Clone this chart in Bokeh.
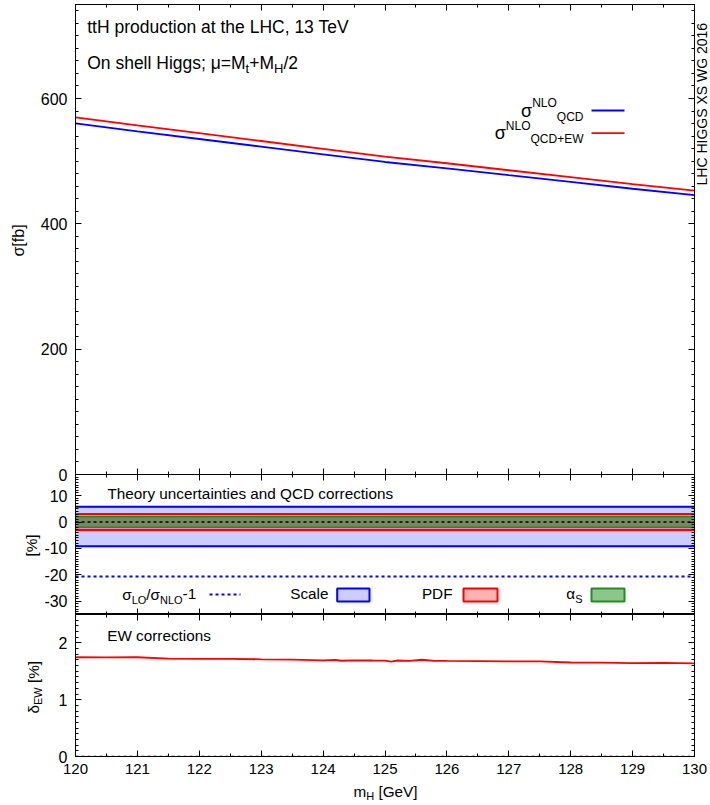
import math
from bokeh.plotting import figure
from bokeh.models import Label, SingleIntervalTicker, LinearAxis, Range1d, CustomLabelingPolicy
from bokeh.layouts import column, row
from bokeh.embed import file_html
from bokeh.resources import INLINE

FONT = "Liberation Sans"

# ---------------- data ----------------
mh = [120, 121, 122, 123, 124, 125, 126, 127, 128, 129, 130]
sigma_qcd = [560.2, 547.5, 535.4, 523.2, 511.0, 498.7, 488.5, 477.6, 466.8, 456.0, 445.8]
sigma_qcdew = [570.0, 557.0, 544.6, 532.2, 519.7, 507.1, 496.7, 485.5, 474.6, 463.5, 453.1]

scale_up = [5.8, 5.8, 5.8, 5.8, 5.8, 5.8, 5.8, 5.8, 5.8, 5.8, 5.8]
scale_dn = [-9.2, -9.2, -9.2, -9.2, -9.2, -9.2, -9.2, -9.2, -9.2, -9.2, -9.2]
pdf_up = [3.0, 3.0, 3.0, 3.0, 3.0, 3.0, 3.0, 3.0, 3.0, 3.0, 3.0]
pdf_dn = [-3.0, -3.0, -3.0, -3.0, -3.0, -3.0, -3.0, -3.0, -3.0, -3.0, -3.0]
as_up = [2.0, 2.0, 2.0, 2.0, 2.0, 2.0, 2.0, 2.0, 2.0, 2.0, 2.0]
as_dn = [-2.0, -2.0, -2.0, -2.0, -2.0, -2.0, -2.0, -2.0, -2.0, -2.0, -2.0]
lo_over_nlo = [-20.6, -20.6, -20.6, -20.6, -20.6, -20.6, -20.6, -20.6, -20.6, -20.6, -20.6]
zero_line = [0, 0, 0, 0, 0, 0, 0, 0, 0, 0, 0]

ew_mh = [120, 120.5, 121, 121.5, 122, 122.5, 123, 123.5, 124, 124.2, 124.3, 124.5,
         124.8, 125, 125.1, 125.2, 125.4, 125.6, 125.8, 126, 126.5, 127, 127.5,
         128, 128.5, 129, 129.5, 130]
ew_delta = [1.747, 1.745, 1.747, 1.723, 1.720, 1.718, 1.711, 1.705, 1.694, 1.700, 1.686, 1.694,
            1.690, 1.688, 1.670, 1.690, 1.685, 1.703, 1.685, 1.682, 1.680, 1.676, 1.674,
            1.655, 1.652, 1.645, 1.648, 1.641]
ew_zero = [0] * len(ew_mh)

mid_tick_labels = {-10: "-10", -20: "-20", -30: "-30"}

# ---------------- layout constants ----------------
PAGE_W, PAGE_H = 710, 805
X0, X1 = 120, 130
L_PX, R_PX = 75, 694   # frame edges in the page
PANELS = {
    "top": dict(top=4, bottom=474, y0=0, y1=750),
    "mid": dict(top=474, bottom=614, y0=-35, y1=18),
    "bot": dict(top=614, bottom=756, y0=0, y1=2.5),
}
OVER = 8  # the top canvas reaches under the middle one (room for its "0" label)

W = {' ': 278, '!': 278, '(': 333, ')': 333, '+': 584, ',': 278, '-': 333, '.': 278, '/': 278,
     ';': 278, '=': 584, '[': 278, ']': 278, '%': 889,
     'A': 667, 'C': 722, 'D': 722, 'E': 667, 'F': 611, 'G': 778, 'H': 722, 'I': 278, 'L': 556,
     'M': 833, 'N': 722, 'O': 778, 'P': 667, 'Q': 778, 'S': 667, 'T': 611, 'V': 667, 'W': 944,
     'X': 667, 'a': 556, 'b': 556, 'c': 500, 'd': 556, 'e': 556, 'f': 278, 'g': 556, 'h': 556,
     'i': 222, 'k': 500, 'l': 222, 'm': 833, 'n': 556, 'o': 556, 'p': 556, 'r': 333, 's': 500,
     't': 278, 'u': 556, 'v': 500, 'y': 500, 'x': 500,
     'σ': 617, 'μ': 576, 'δ': 556, 'α': 578}

HIDE = CustomLabelingPolicy(code="for (const i of indices) { indices.unset(i) }\nreturn indices")


def tw(s, size):
    return sum(W.get(c, 556) for c in s) * size / 1000.0


def panel_conv(pn):
    d = PANELS[pn]

    def conv(px, py):
        x = X0 + (px - L_PX) / (R_PX - L_PX) * (X1 - X0)
        y = d["y0"] + (d["bottom"] - py) / (d["bottom"] - d["top"]) * (d["y1"] - d["y0"])
        return x, y
    return conv


def canvas_conv(px, py):
    return px, PAGE_H - py


def label(p, conv, px, base, text, size, align="left", angle=0, color="black"):
    # base = alphabetic baseline in page pixels; drawn with a "middle" baseline
    if angle:
        x, y = conv(px - 0.35 * size, base)
    else:
        x, y = conv(px, base - 0.35 * size)
    p.add_layout(Label(x=x, y=y, text=text, text_font=FONT, text_font_size=f"{size}px",
                       text_align=align, text_baseline="middle", angle=angle,
                       text_color=color))


def rich(p, conv, x0, base, pieces, rotated=False):
    adv = 0.0
    for text, size, dy in pieces:
        lead = len(text) - len(text.lstrip(" "))
        adv += tw(" " * lead, size)
        body = text.lstrip(" ")
        if rotated:
            label(p, conv, x0 + dy, base - adv, body, size, angle=math.pi / 2)
        else:
            label(p, conv, x0 + adv, base + dy, body, size)
        adv += tw(body, size)


def make_fig(pn, min_top, min_bottom):
    d = PANELS[pn]
    p = figure(frame_width=R_PX - L_PX, frame_height=d["bottom"] - d["top"],
               x_range=Range1d(X0, X1), y_range=Range1d(d["y0"], d["y1"]),
               output_backend="svg", toolbar_location=None,
               min_border_left=L_PX, min_border_right=PAGE_W - R_PX,
               min_border_top=min_top, min_border_bottom=min_bottom)
    p.grid.visible = False
    p.outline_line_color = "black"
    p.outline_line_width = 1
    p.background_fill_color = "white"
    p.border_fill_alpha = 0
    return p


def style_axis(ax, show_labels, size=15, standoff=7):
    ax.major_tick_in = 6
    ax.major_tick_out = 0
    ax.minor_tick_in = 3
    ax.minor_tick_out = 0
    ax.axis_line_color = "black"
    ax.major_tick_line_color = "black"
    ax.minor_tick_line_color = "black"
    ax.major_label_text_color = "black"
    ax.major_label_text_font = FONT
    if show_labels:
        ax.major_label_text_font_size = f"{size}px"
        ax.major_label_standoff = standoff
    else:
        ax.major_label_text_font_size = "0px"
        ax.major_label_standoff = 0
        ax.major_label_policy = HIDE


def setup_axes(p, y_interval, y_minor, show_x):
    p.xaxis.ticker = SingleIntervalTicker(interval=1, num_minor_ticks=2)
    p.yaxis.ticker = SingleIntervalTicker(interval=y_interval, num_minor_ticks=y_minor)
    style_axis(p.xaxis[0], show_x, 15, 7)
    style_axis(p.yaxis[0], True, 16, 8)
    top_ax = LinearAxis(ticker=SingleIntervalTicker(interval=1, num_minor_ticks=2))
    style_axis(top_ax, False)
    p.add_layout(top_ax, "above")
    right_ax = LinearAxis(ticker=SingleIntervalTicker(interval=y_interval, num_minor_ticks=y_minor))
    style_axis(right_ax, False)
    p.add_layout(right_ax, "right")


# ---------------- top panel ----------------
p1 = make_fig("top", 4, OVER)
p1.margin = (0, 0, -OVER, 0)
setup_axes(p1, 200, 10, False)
p1.line(mh, sigma_qcd, line_color="#0000ff", line_width=1.8)
p1.line(mh, sigma_qcdew, line_color="#ff0000", line_width=1.8)
c1 = panel_conv("top")

label(p1, c1, 86.7, 33, "ttH production at the LHC, 13 TeV", 17.5)
rich(p1, c1, 86.7, 69, [("On shell Higgs; μ=M", 17.5, 0), ("t", 13, 4), ("+M", 17.5, 0),
                        ("H", 13, 4), ("/2", 17.5, 0)])
leg_end = 583
w1 = tw("σ", 18) + tw("NLO", 12) + tw("QCD", 12)
rich(p1, c1, leg_end - w1, 117, [("σ", 18, 0), ("NLO", 12, -10), ("QCD", 12, 3.5)])
w2 = tw("σ", 18) + tw("NLO", 12) + tw("QCD+EW", 12)
rich(p1, c1, leg_end - w2, 138.5, [("σ", 18, 0), ("NLO", 12, -9), ("QCD+EW", 12, 4.5)])
lx0, ly0 = c1(591, 110)
lx1, ly1 = c1(624, 132.7)
p1.line([lx0, lx1], [ly0, ly0], line_color="#0000ff", line_width=1.8)
p1.line([lx0, lx1], [ly1, ly1], line_color="#ff0000", line_width=1.8)

# ---------------- middle panel ----------------
p2 = make_fig("mid", 0, 0)
setup_axes(p2, 10, 10, False)
p2.yaxis[0].major_label_overrides = mid_tick_labels
p2.varea(mh, scale_dn, scale_up, fill_color="#0000ff", fill_alpha=0.2)
p2.varea(mh, pdf_dn, pdf_up, fill_color="#ff0000", fill_alpha=0.3)
p2.varea(mh, as_dn, as_up, fill_color="#008000", fill_alpha=0.45)
p2.line(mh, scale_up, line_color="#0000ff", line_width=2)
p2.line(mh, scale_dn, line_color="#0000ff", line_width=2)
p2.line(mh, pdf_up, line_color="#ff0000", line_width=2)
p2.line(mh, pdf_dn, line_color="#ff0000", line_width=2)
p2.line(mh, as_up, line_color="#228b22", line_width=1.5)
p2.line(mh, as_dn, line_color="#228b22", line_width=1.5)
p2.line(mh, zero_line, line_color="black", line_width=1.5, line_dash="3 3")
p2.line(mh, lo_over_nlo, line_color="#0000ff", line_width=2, line_dash="3 3")
c2 = panel_conv("mid")

label(p2, c2, 107, 498, "Theory uncertainties and QCD corrections", 15.3)
rich(p2, c2, 121.7, 599, [("σ", 15.3, 0), ("LO", 11, 4), ("/σ", 15.3, 0), ("NLO", 11, 4),
                          ("-1", 15.3, 0)])
ax0, ay = c2(209, 594)
ax1, _ = c2(240, 594)
p2.line([ax0, ax1], [ay, ay], line_color="#0000ff", line_width=2, line_dash="3 3")

label(p2, c2, 328, 598.5, "Scale", 15.3, align="right")
label(p2, c2, 452, 598.5, "PDF", 15.3, align="right")
rich(p2, c2, 582 - tw("α", 15.3) - tw("S", 11), 598.5, [("α", 15.3, 0), ("S", 11, 4)])

for (x_a, x_b, fc, fa, lc) in [(336.7, 369, "#0000ff", 0.2, "#0000ff"),
                               (463, 497, "#ff0000", 0.3, "#ff0000"),
                               (591, 624, "#008000", 0.45, "#228b22")]:
    qx0, qy0 = c2(x_a, 601)
    qx1, qy1 = c2(x_b, 588)
    p2.quad(left=[qx0], right=[qx1], bottom=[qy0], top=[qy1], fill_color=fc, fill_alpha=fa,
            line_color=lc, line_width=2)

# ---------------- bottom panel ----------------
p3 = make_fig("bot", 0, PAGE_H - PANELS["bot"]["bottom"])
setup_axes(p3, 1, 10, True)
p3.line(ew_mh, ew_zero, line_color="black", line_width=1.5, line_dash="3 3")
p3.line(ew_mh, ew_delta, line_color="#ff0000", line_width=1.8)
c3 = panel_conv("bot")
label(p3, c3, 106.7, 640.5, "EW corrections", 15.3)

# ---------------- page-wide transparent text layer (on top of the panels) ----------------
ov = figure(width=PAGE_W, height=PAGE_H, x_range=Range1d(0, PAGE_W), y_range=Range1d(0, PAGE_H),
            output_backend="svg", toolbar_location=None, min_border=0,
            x_axis_location=None, y_axis_location=None)
ov.grid.visible = False
ov.outline_line_color = None
ov.background_fill_alpha = 0
ov.border_fill_alpha = 0
ov.margin = (0, 0, 0, -PAGE_W)

rich(ov, canvas_conv, 24, 256, [("σ[fb]", 16, 0)], rotated=True)
rich(ov, canvas_conv, 36, 556, [("[%]", 15.3, 0)], rotated=True)
rich(ov, canvas_conv, 38, 713, [("δ", 15.3, 0), ("EW", 11, 3), (" [%]", 15.3, 0)], rotated=True)
rich(ov, canvas_conv, 353, 796, [("m", 15.3, 0), ("H", 11, 3.5), (" [GeV]", 15.3, 0)])
label(ov, canvas_conv, 706.5, 185, "LHC HIGGS XS WG 2016", 14, angle=math.pi / 2)

layout = row(column(p1, p2, p3, spacing=0), ov, spacing=0)
open("out.html", "w").write(file_html(layout, INLINE))
